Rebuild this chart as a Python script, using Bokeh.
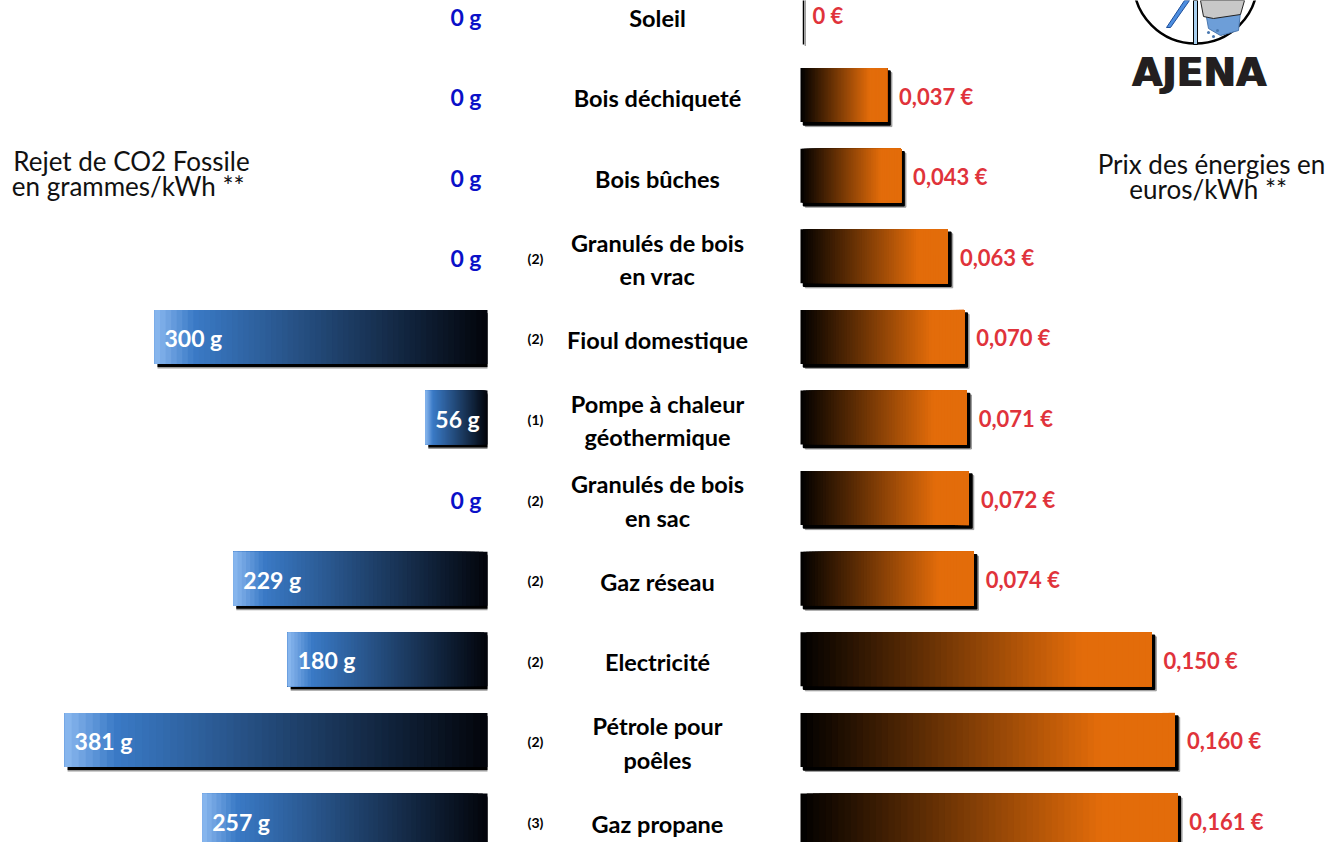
from bokeh.plotting import figure
from bokeh.models import Range1d, ColumnDataSource
from bokeh.embed import file_html
from bokeh.resources import INLINE
from bokeh.core.properties import value

# ---------------- data ----------------
categories = ["Soleil", "Bois déchiqueté", "Bois bûches", "Granulés de bois\nen vrac",
              "Fioul domestique", "Pompe à chaleur\ngéothermique", "Granulés de bois\nen sac",
              "Gaz réseau", "Electricité", "Pétrole pour\npoêles", "Gaz propane"]
notes = ["", "", "", "(2)", "(2)", "(1)", "(2)", "(2)", "(2)", "(2)", "(3)"]
co2_g = [0, 0, 0, 0, 300, 56, 0, 229, 180, 381, 257]
price_eur = [0, 0.037, 0.043, 0.063, 0.070, 0.071, 0.072, 0.074, 0.150, 0.160, 0.161]
co2_labels = [f"{v} g" for v in co2_g]
price_labels = ["0 €" if v == 0 else f"{v:.3f} €".replace(".", ",") for v in price_eur]

# ---------------- layout ----------------
W, H = 1327, 842
CO2_PX = 1.11        # px per gram
PRICE_PX = 2340.0    # px per euro
ROW_PX = 80.6        # px per row
CO2_ZERO = 487.0     # px of co2 axis
PRICE_ZERO = 800.0   # px of price axis
ROW0 = 14.0          # px of first row centre
BAR_H = 0.67

p = figure(width=W, height=H, output_backend="svg", toolbar_location=None,
           x_range=Range1d(0, W), y_range=Range1d(H, 0),
           x_axis_type=None, y_axis_type=None, min_border=0)
p.grid.visible = False
p.outline_line_color = None
p.background_fill_color = "white"
p.border_fill_color = "white"

p.extra_x_ranges = {
    "co2": Range1d(CO2_ZERO / CO2_PX, (CO2_ZERO - W) / CO2_PX),
    "price": Range1d(-PRICE_ZERO / PRICE_PX, (W - PRICE_ZERO) / PRICE_PX),
}
p.extra_y_ranges = {"row": Range1d((H - ROW0) / ROW_PX, -ROW0 / ROW_PX)}

rows = list(range(len(categories)))


def interp(stops, f):
    for (f0, c0), (f1, c1) in zip(stops[:-1], stops[1:]):
        if f0 <= f <= f1:
            t = (f - f0) / (f1 - f0) if f1 > f0 else 0
            c = [round(a + (b - a) * t) for a, b in zip(c0, c1)]
            return "#%02x%02x%02x" % tuple(c)
    c = stops[-1][1]
    return "#%02x%02x%02x" % tuple(c)


orange_stops = [(0.0, (0, 0, 0)), (0.8, (227, 108, 10)), (1.0, (227, 108, 10))]
blue_stops = [(0.0, (2, 4, 10)), (0.88, (58, 122, 198)), (1.0, (140, 185, 240))]
N = 60

# ---------------- shadows ----------------
dyr = 3 / ROW_PX
dxp = 3 / PRICE_PX
dxc = 3 / CO2_PX

ps = dict(l=[], r=[], t=[], b=[])
for i, v in zip(rows, price_eur):
    ps["l"].append(0 + dxp); ps["r"].append(v + dxp)
    ps["t"].append(i - BAR_H / 2 + dyr); ps["b"].append(i + BAR_H / 2 + dyr)
p.quad(left="l", right="r", top="t", bottom="b", source=ColumnDataSource(
    dict(l=[x + 0.6 * dxp for x in ps["l"]], r=[x + 0.6 * dxp for x in ps["r"]],
         t=[x + 0.5 * dyr for x in ps["t"]], b=[x + 0.5 * dyr for x in ps["b"]])),
    fill_color="#9a9a9a", line_color="#9a9a9a", line_width=1,
    x_range_name="price", y_range_name="row")
p.quad(left="l", right="r", top="t", bottom="b", source=ColumnDataSource(ps),
       fill_color="black", line_color="black", line_width=1.5,
       x_range_name="price", y_range_name="row")

cs = dict(l=[], r=[], t=[], b=[])
for i, v in zip(rows, co2_g):
    if v > 0:
        cs["l"].append(v - dxc); cs["r"].append(0)
        cs["t"].append(i - BAR_H / 2 + dyr); cs["b"].append(i + BAR_H / 2 + dyr)
p.quad(left="l", right="r", top="t", bottom="b", source=ColumnDataSource(
    dict(l=cs["l"], r=cs["r"], t=[x + 0.5 * dyr for x in cs["t"]], b=[x + 0.5 * dyr for x in cs["b"]])),
    fill_color="#9a9a9a", line_color=None, x_range_name="co2", y_range_name="row")
p.quad(left="l", right="r", top="t", bottom="b", source=ColumnDataSource(cs),
       fill_color="black", line_color=None, x_range_name="co2", y_range_name="row")

# ---------------- gradient bars (overlapping strips, no seams) ----------------
pg = dict(l=[], r=[], t=[], b=[], c=[])
for i, v in zip(rows, price_eur):
    if v <= 0:
        continue
    for j in range(N):
        pg["l"].append(v * j / N); pg["r"].append(v)
        pg["t"].append(i - BAR_H / 2); pg["b"].append(i + BAR_H / 2)
        pg["c"].append(interp(orange_stops, (j + 0.5) / N))
p.quad(left="l", right="r", top="t", bottom="b", source=ColumnDataSource(pg),
       fill_color="c", line_color=None,
       x_range_name="price", y_range_name="row")

cg = dict(l=[], r=[], t=[], b=[], c=[])
for i, v in zip(rows, co2_g):
    if v <= 0:
        continue
    for j in range(N):
        cg["l"].append(v); cg["r"].append(v * j / N)
        cg["t"].append(i - BAR_H / 2); cg["b"].append(i + BAR_H / 2)
        cg["c"].append(interp(blue_stops, (j + 0.5) / N))
p.quad(left="l", right="r", top="t", bottom="b", source=ColumnDataSource(cg),
       fill_color="c", line_color=None,
       x_range_name="co2", y_range_name="row")

# ---------------- labels ----------------
BOLD = dict(text_font=value("Lato"), text_font_style="bold")

nz = [(i, v, s) for i, v, s in zip(rows, co2_g, co2_labels) if v > 0]
zz = [(i, v, s) for i, v, s in zip(rows, co2_g, co2_labels) if v == 0]
p.text(x=[v for _, v, _ in nz], y=[i for i, _, _ in nz], text=[s for _, _, s in nz],
       x_offset=10, y_offset=1, text_align="left", text_baseline="middle",
       text_color="white", text_font_size="23px", x_range_name="co2", y_range_name="row", **BOLD)
p.text(x=[v for _, v, _ in zz], y=[i for i, _, _ in zz], text=[s for _, _, s in zz],
       x_offset=-6, y_offset=2, text_align="right", text_baseline="middle",
       text_color="#0a10c8", text_font_size="23px", x_range_name="co2", y_range_name="row", **BOLD)

p.text(x=price_eur, y=rows, text=price_labels, x_offset=12, y_offset=1,
       text_align="left", text_baseline="middle", text_color="#e0333b",
       text_font_size="22px", x_range_name="price", y_range_name="row", **BOLD)

p.text(x=[657] * len(rows), y=rows, text=categories, y_offset=3,
       text_align="center", text_baseline="middle", text_color="black",
       text_font_size="23.5px", text_line_height=1.2, y_range_name="row", **BOLD)
p.text(x=[535] * len(rows), y=rows, text=notes, y_offset=2,
       text_align="center", text_baseline="middle", text_color="black",
       text_font_size="14px", y_range_name="row", **BOLD)

# ---------------- side titles ----------------
p.text(x=[131], y=[173], text=["Rejet de CO2 Fossile\nen grammes/kWh  **"],
       text_align="center", text_baseline="middle", text_color="#111111",
       text_font=value("Lato"), text_font_size="26px", text_line_height=0.8)
p.text(x=[1211], y=[176], text=["Prix des énergies en\neuros/kWh  **"],
       text_align="center", text_baseline="middle", text_color="#111111",
       text_font=value("Lato"), text_font_size="26px", text_line_height=0.8)

# ---------------- logo ----------------
p.scatter(x=[1195], y=[-19], size=124, marker="circle", fill_color="white",
          line_color="black", line_width=2.5)
p.patch(x=[1205, 1241, 1238, 1220, 1208], y=[11, 2, 30, 35, 28],
        fill_color="#6d9ed8", line_color="#4a78b0", line_width=1)
p.patch(x=[1200, 1244, 1240, 1213, 1203], y=[0, 0, 14, 18, 16],
        fill_color="#c8c8c8", line_color="#222222", line_width=1)
p.patch(x=[1166, 1170, 1189, 1184], y=[27, 27, 0, 0],
        fill_color="#4d8ee0", line_color="#1f4f9a", line_width=1)
p.quad(left=[1193], right=[1197], top=[0], bottom=[44],
       fill_color="#a9d0f0", line_color="black", line_width=1)
p.scatter(x=[1208, 1213, 1217], y=[32, 36, 30], size=3, marker="circle",
          fill_color="#4a78b0", line_color=None)
for dx in (0, 1.5):
    p.text(x=[1198 + dx], y=[72], text=["AJENA"], text_align="center", text_baseline="middle",
           text_color="#231f20", text_font=value("DejaVu Sans"), text_font_style="bold",
           text_font_size="39px")

open("out.html", "w").write(file_html(p, INLINE))
